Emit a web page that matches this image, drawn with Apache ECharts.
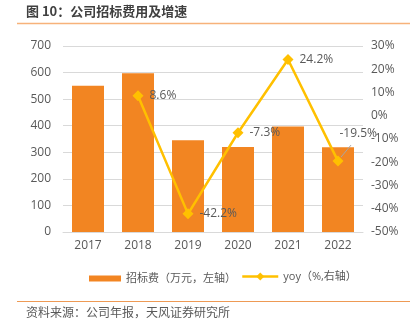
<!DOCTYPE html>
<html><head><meta charset="utf-8">
<script src="https://cdn.jsdelivr.net/npm/echarts@6/dist/echarts.min.js"></script>
<style>html,body{margin:0;padding:0;background:#fff}#c{width:417px;height:335px}</style>
</head><body><div id="c"></div>
<script>
const categories = ['2017','2018','2019','2020','2021','2022'];
const feeValues = [550, 597, 345, 320, 397, 319];
const yoyValues = [null, 8.6, -42.2, -7.3, 24.2, -19.5];
const leftTicks = {min:0, max:700, interval:100};
const rightTicks = {min:-50, max:30, interval:10};
const barName = '招标费（万元，左轴）';
const lineName = 'yoy（%,右轴）';
const titleText = '图 10：公司招标费用及增速';
const sourceText = '资料来源：公司年报，天风证券研究所';

const FONT = '"Open Sans","Noto Sans CJK SC",sans-serif';
const CJK = '"Noto Sans CJK SC",sans-serif';
const chart = echarts.init(document.getElementById('c'));
const baseGraphic = [
  {type:'text', left:26, top:5, style:{text:titleText, fontSize:13, fontWeight:'bold', fontFamily:CJK, fill:'#404040', align:'left', verticalAlign:'top'}},
  {type:'line', shape:{x1:17,y1:23.5,x2:410,y2:23.5}, style:{stroke:'#F7B27A', lineWidth:1.5}},
  {type:'line', shape:{x1:17,y1:301.5,x2:410,y2:301.5}, style:{stroke:'#EE9A55', lineWidth:1.2}},
  {type:'text', left:26, top:306, style:{text:sourceText, fontSize:12, fontFamily:CJK, fill:'#595959', align:'left', verticalAlign:'top'}}
];
chart.setOption({
  animation:false,
  textStyle:{fontFamily:FONT},
  graphic:baseGraphic,
  grid:{left:63, right:54, top:46, bottom:103},
  legend:[
    {left:84, top:268, itemWidth:32, itemHeight:6,
     textStyle:{color:'#595959', fontSize:11, fontFamily:FONT},
     data:[{name:barName, icon:'rect'}]},
    {left:236, top:266, itemWidth:36, itemHeight:10,
     textStyle:{color:'#595959', fontSize:11, fontFamily:FONT},
     data:[{name:lineName, lineStyle:{width:2.5}}]}
  ],
  xAxis:{type:'category', data:categories,
    axisLine:{lineStyle:{color:'#D9D9D9'}}, axisTick:{show:false},
    axisLabel:{color:'#595959', fontSize:12, margin:8}},
  yAxis:[
    {type:'value', min:leftTicks.min, max:leftTicks.max, interval:leftTicks.interval,
     axisLabel:{color:'#595959', fontSize:12, margin:12},
     splitLine:{lineStyle:{color:'#D9D9D9'}}, axisLine:{show:false}},
    {type:'value', min:rightTicks.min, max:rightTicks.max, interval:rightTicks.interval,
     axisLabel:{color:'#595959', fontSize:12, formatter:'{value}%', margin:8},
     splitLine:{show:false}, axisLine:{show:false}}
  ],
  series:[
    {name:barName, type:'bar', data:feeValues, barWidth:32,
     itemStyle:{color:'#F28522'}},
    {name:lineName, type:'line', yAxisIndex:1, data:yoyValues,
     symbol:'diamond', symbolSize:11, connectNulls:false,
     lineStyle:{color:'#FFC000', width:2.5}, itemStyle:{color:'#FFC000'},
     label:{show:true, position:'right', color:'#595959', fontSize:12, distance:6,
       formatter:p=>p.value==null?'':p.value.toFixed(1)+'%'},
     labelLayout:function(p){
       if(p.dataIndex===5){return {dx:-10, dy:-28};}
       return {};
     }
    }
  ]
});
const pt = chart.convertToPixel({xAxisIndex:0,yAxisIndex:1},[categories[5], yoyValues[5]]);
chart.setOption({graphic: baseGraphic.concat([
  {type:'line', z:100, shape:{x1:pt[0]+3,y1:pt[1]-4,x2:pt[0]+13,y2:pt[1]-16}, style:{stroke:'#A6A6A6', lineWidth:1}}
])});
</script></body></html>
